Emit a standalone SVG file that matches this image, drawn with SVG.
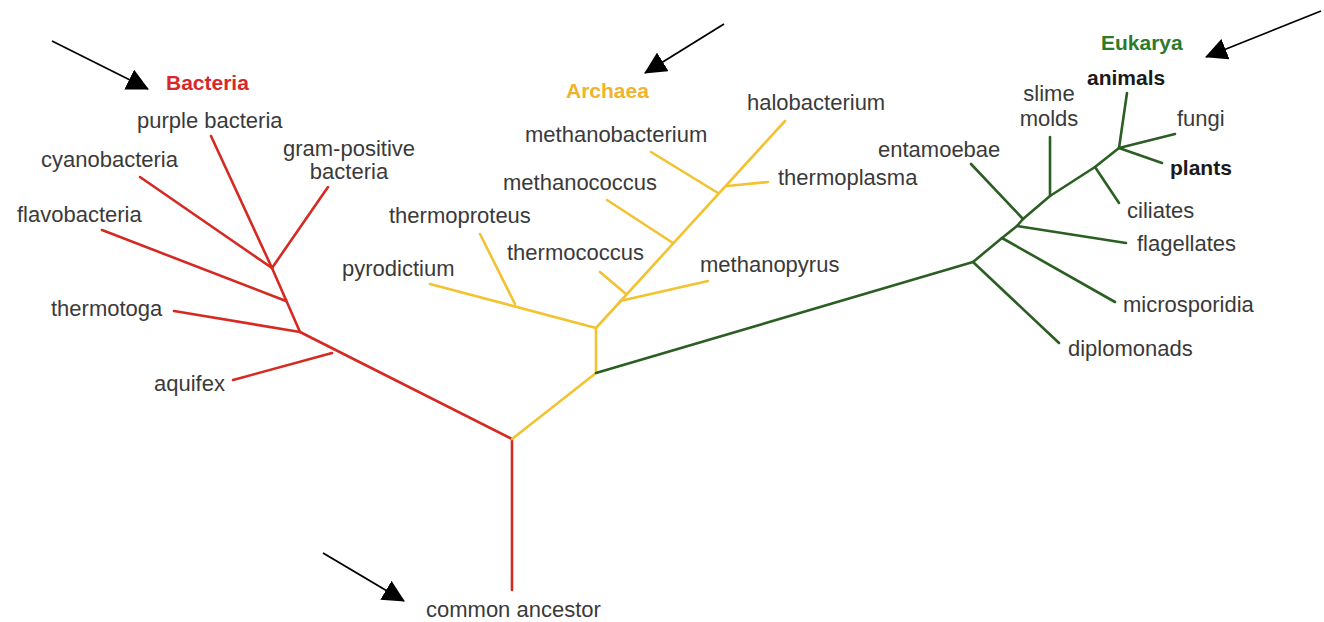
<svg xmlns="http://www.w3.org/2000/svg" width="1324" height="622" viewBox="0 0 1324 622">
<style>
.lbl{font-family:"Liberation Sans",Arial,sans-serif;font-size:22px;fill:#3a3a3a}
.b{font-weight:bold;font-size:21px}
.red{fill:none;stroke:#d42a22;stroke-width:2.6;stroke-linecap:round;stroke-linejoin:round}
.yel{fill:none;stroke:#f2c230;stroke-width:2.6;stroke-linecap:round;stroke-linejoin:round}
.grn{fill:none;stroke:#2b5e22;stroke-width:2.6;stroke-linecap:round;stroke-linejoin:round}
.arr{stroke:#000;stroke-width:1.8;fill:none}
</style>
<defs>
<marker id="ah" viewBox="0 0 22 22" refX="21" refY="11" markerWidth="22" markerHeight="22" markerUnits="userSpaceOnUse" orient="auto">
<path d="M0,0 L22,11 L0,22 z" fill="#000"/>
</marker>
</defs>
<rect width="1324" height="622" fill="#fff"/>
<g id="connectors">
<path class="red" d="M512,590 L512,439 L300,332 L272,268"/>
<path class="red" d="M211,136 L272,268 L328,187"/>
<path class="red" d="M140,177 L272,268"/>
<path class="red" d="M102,230 L286,301"/>
<path class="red" d="M174,311 L300,332"/>
<path class="red" d="M233,380 L332,353"/>
<path class="yel" d="M512,439 L596,373 L596,328 L785,121"/>
<path class="yel" d="M596,328 L430,284"/>
<path class="yel" d="M480,234 L515,304"/>
<path class="yel" d="M620,301 L708,281"/>
<path class="yel" d="M626,294 L600,272"/>
<path class="yel" d="M673,243 L607,200"/>
<path class="yel" d="M718,193 L651,152"/>
<path class="yel" d="M727,186 L768,182"/>
<path class="grn" d="M596,373 L973,262 L1002,238 L1017,226 L1023,219 L1050,196 L1095,167 L1119,148"/>
<path class="grn" d="M973,262 L1059,343"/>
<path class="grn" d="M1002,238 L1115,302"/>
<path class="grn" d="M1017,226 L1126,243"/>
<path class="grn" d="M1023,219 L971,164"/>
<path class="grn" d="M1050,196 L1050,137"/>
<path class="grn" d="M1095,167 L1119,203"/>
<path class="grn" d="M1119,148 L1127,93"/>
<path class="grn" d="M1119,148 L1175,134"/>
<path class="grn" d="M1119,148 L1162,163"/>
<line class="arr" x1="52" y1="41" x2="148" y2="89" marker-end="url(#ah)"/>
<line class="arr" x1="724" y1="24" x2="645" y2="73" marker-end="url(#ah)"/>
<line class="arr" x1="1321" y1="11" x2="1206" y2="57" marker-end="url(#ah)"/>
<line class="arr" x1="323" y1="553" x2="404" y2="601" marker-end="url(#ah)"/>
</g>
<g id="bacteria"><text class="lbl b" x="166" y="90" style="fill:#d8282a">Bacteria</text></g>
<g id="purple-bacteria"><text class="lbl" x="137" y="128">purple bacteria</text></g>
<g id="cyanobacteria"><text class="lbl" x="41" y="167">cyanobacteria</text></g>
<g id="gram-positive"><text class="lbl" x="349" y="156" text-anchor="middle">gram-positive</text><text class="lbl" x="349" y="179" text-anchor="middle">bacteria</text></g>
<g id="flavobacteria"><text class="lbl" x="17" y="222">flavobacteria</text></g>
<g id="thermotoga"><text class="lbl" x="51" y="316">thermotoga</text></g>
<g id="aquifex"><text class="lbl" x="154" y="391">aquifex</text></g>
<g id="common-ancestor"><text class="lbl" x="426" y="617">common ancestor</text></g>
<g id="archaea"><text class="lbl b" x="566" y="98" style="fill:#f0b42a">Archaea</text></g>
<g id="halobacterium"><text class="lbl" x="747" y="110">halobacterium</text></g>
<g id="methanobacterium"><text class="lbl" x="525" y="142">methanobacterium</text></g>
<g id="thermoplasma"><text class="lbl" x="778" y="185">thermoplasma</text></g>
<g id="methanococcus"><text class="lbl" x="503" y="190">methanococcus</text></g>
<g id="thermoproteus"><text class="lbl" x="389" y="223">thermoproteus</text></g>
<g id="thermococcus"><text class="lbl" x="507" y="260">thermococcus</text></g>
<g id="pyrodictium"><text class="lbl" x="342" y="276">pyrodictium</text></g>
<g id="methanopyrus"><text class="lbl" x="700" y="272">methanopyrus</text></g>
<g id="eukarya"><text class="lbl b" x="1101" y="50" style="fill:#2e7a2a">Eukarya</text></g>
<g id="animals"><text class="lbl b" x="1087" y="85" style="fill:#1a1a1a">animals</text></g>
<g id="slime-molds"><text class="lbl" x="1049" y="101" text-anchor="middle">slime</text><text class="lbl" x="1049" y="126" text-anchor="middle">molds</text></g>
<g id="fungi"><text class="lbl" x="1177" y="126">fungi</text></g>
<g id="plants"><text class="lbl b" x="1170" y="175" style="fill:#1a1a1a">plants</text></g>
<g id="entamoebae"><text class="lbl" x="878" y="157">entamoebae</text></g>
<g id="ciliates"><text class="lbl" x="1127" y="218">ciliates</text></g>
<g id="flagellates"><text class="lbl" x="1137" y="251">flagellates</text></g>
<g id="microsporidia"><text class="lbl" x="1123" y="312">microsporidia</text></g>
<g id="diplomonads"><text class="lbl" x="1068" y="356">diplomonads</text></g>
</svg>
